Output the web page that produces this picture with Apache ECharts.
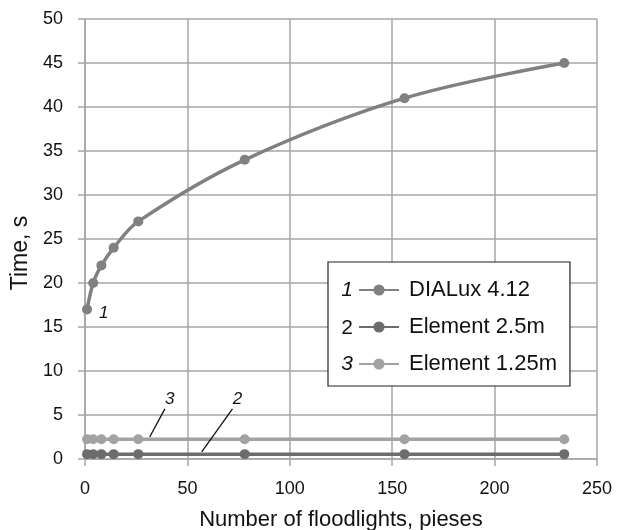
<!DOCTYPE html>
<html><head><meta charset="utf-8">
<script src="https://cdn.jsdelivr.net/npm/echarts@6/dist/echarts.min.js"></script>
<style>html,body{margin:0;padding:0;background:#fff}#c{width:618px;height:530px}</style>
</head><body><div id="c"></div>
<script>
const xValues = [1, 4, 8, 14, 26, 78, 156, 234];
const dialux = [17, 20, 22, 24, 27, 34, 41, 45];
const element25 = [0.55, 0.55, 0.55, 0.55, 0.55, 0.55, 0.55, 0.55];
const element125 = [2.25, 2.25, 2.25, 2.25, 2.25, 2.25, 2.25, 2.25];
const seriesNames = ['DIALux 4.12', 'Element 2.5m', 'Element 1.25m'];
const xTicks = [0, 50, 100, 150, 200, 250];
const yTicks = [0, 5, 10, 15, 20, 25, 30, 35, 40, 45, 50];

const FONT = 'Liberation Sans, Arial, sans-serif';
const colors = ['#808080', '#6c6c6c', '#a2a2a2'];
const pair = (ys) => xValues.map((x, i) => [x, ys[i]]);

const chart = echarts.init(document.getElementById('c'));
const option = {
  animation: false,
  grid: {left: 85, top: 19, right: 21, bottom: 71, containLabel: false, outerBoundsMode: 'none'},
  xAxis: {
    type: 'value', min: xTicks[0], max: xTicks[xTicks.length - 1], interval: 50,
    name: 'Number of floodlights, pieses', nameLocation: 'middle', nameGap: 50,
    nameTextStyle: {fontFamily: FONT, fontSize: 22, color: '#111'},
    axisLine: {show: true, lineStyle: {color: '#a6a6a6', width: 1.5}},
    axisTick: {show: true, length: 7, lineStyle: {color: '#a6a6a6', width: 1.5}},
    axisLabel: {fontFamily: FONT, fontSize: 18, color: '#111', margin: 21},
    splitLine: {show: true, lineStyle: {color: '#a6a6a6', width: 1.5}}
  },
  yAxis: {
    type: 'value', min: yTicks[0], max: yTicks[yTicks.length - 1], interval: 5,
    name: 'Time, s', nameLocation: 'middle', nameGap: 53,
    nameTextStyle: {fontFamily: FONT, fontSize: 23, color: '#111', padding: [0, 28, 0, 0]},
    axisLine: {show: true, lineStyle: {color: '#a6a6a6', width: 1.5}},
    axisTick: {show: true, length: 7, lineStyle: {color: '#a6a6a6', width: 1.5}},
    axisLabel: {fontFamily: FONT, fontSize: 18, color: '#111', margin: 22},
    splitLine: {show: true, lineStyle: {color: '#a6a6a6', width: 1.5}}
  },
  legend: {
    left: 328, top: 262, orient: 'vertical',
    padding: [17, 13, 11, 30],
    itemWidth: 40, itemHeight: 14, itemGap: 15,
    backgroundColor: '#fff', borderColor: '#222', borderWidth: 1.2,
    textStyle: {fontFamily: FONT, fontSize: 22, color: '#111', padding: [0, 0, 0, 5]},
    data: seriesNames
  },
  series: [
    {name: seriesNames[0], type: 'line', smooth: 0.35, data: pair(dialux), symbol: 'circle', symbolSize: 10,
     lineStyle: {width: 3.5, color: colors[0]}, itemStyle: {color: colors[0]}, z: 3},
    {name: seriesNames[1], type: 'line', data: pair(element25), symbol: 'circle', symbolSize: 10,
     lineStyle: {width: 3.5, color: colors[1]}, itemStyle: {color: colors[1]}, z: 2},
    {name: seriesNames[2], type: 'line', data: pair(element125), symbol: 'circle', symbolSize: 10,
     lineStyle: {width: 3.5, color: colors[2]}, itemStyle: {color: colors[2]}, z: 2}
  ]
};
chart.setOption(option);

// annotations positioned via data coordinates
const P = (x, y) => chart.convertToPixel({gridIndex: 0}, [x, y]);
const lbl = (txt, x, y, italic) => {
  const p = P(x, y);
  return {type: 'text', x: p[0], y: p[1], z: 10,
    style: {text: txt, font: (italic ? 'italic ' : '') + '17px ' + FONT, fill: '#111', align: 'center', verticalAlign: 'middle'}};
};
const leader = (x1, y1, x2, y2) => {
  const a = P(x1, y1), b = P(x2, y2);
  return {type: 'line', z: 10, shape: {x1: a[0], y1: a[1], x2: b[0], y2: b[1]}, style: {stroke: '#111', lineWidth: 1.3}};
};
const legendNum = (txt, y, italic) => ({type: 'text', x: 347, y: y, z: 20,
  style: {text: txt, font: (italic ? 'italic ' : '') + '21px ' + FONT, fill: '#111', align: 'center', verticalAlign: 'middle'}});
chart.setOption({graphic: [
  lbl('1', 9.2, 16.6, true),
  lbl('3', 41.4, 6.8, true),
  leader(39, 5.7, 31.6, 2.5),
  lbl('2', 74.5, 6.8, true),
  leader(72, 5.7, 57, 0.8),
  legendNum('1', 290, true),
  legendNum('2', 328, false),
  legendNum('3', 364, true)
]});
</script>
</body></html>
